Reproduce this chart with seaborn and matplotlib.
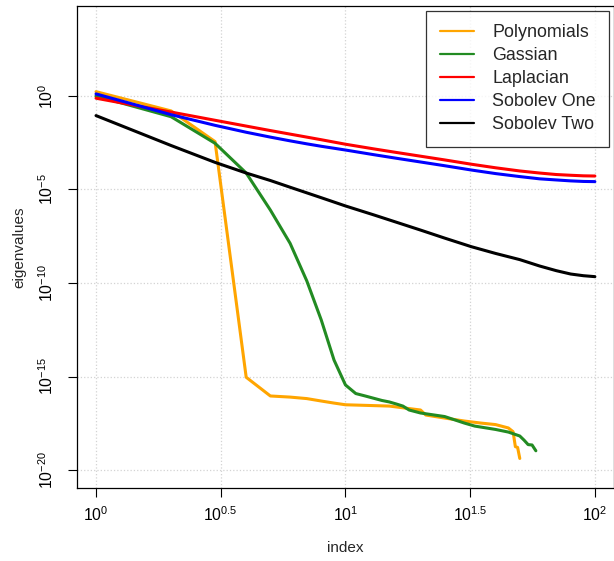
import numpy as np
import pandas as pd
import matplotlib
matplotlib.use('Agg')
import matplotlib.pyplot as plt
import seaborn as sns

# eigenvalues (log10 of value)
poly_idx = [1, 2, 3, 4, 5, 6, 7, 8, 9, 10, 15, 20, 21, 25, 30, 35, 40, 45, 47, 48, 49, 50]
poly_log = [0.23, -0.80, -2.44, -15.04, -16.04, -16.10, -16.18, -16.31, -16.42, -16.51,
            -16.58, -16.79, -17.06, -17.22, -17.38, -17.49, -17.57, -17.75, -17.95,
            -18.75, -18.79, -19.38]

gauss_idx = [1, 2, 3, 4, 5, 6, 7, 8, 9, 10, 11, 12, 14, 15, 16, 17, 18, 20, 25, 30,
             33, 40, 45, 50, 52, 54, 56, 58]
gauss_log = [0.0, -1.11, -2.53, -4.12, -6.10, -7.88, -9.89, -11.98, -14.12, -15.45,
             -15.91, -16.04, -16.28, -16.36, -16.47, -16.58, -16.79, -16.95, -17.14,
             -17.49, -17.65, -17.83, -17.97, -18.18, -18.40, -18.64, -18.66, -18.97]

smooth_idx = [1, 2, 3, 4, 5, 6, 7, 8, 10, 13, 16, 20, 25, 32, 40, 50, 60, 70, 80, 90, 100]
lap_log = [-0.12, -0.86, -1.30, -1.61, -1.85, -2.04, -2.20, -2.34, -2.58, -2.83, -3.02,
           -3.22, -3.42, -3.65, -3.84, -4.01, -4.12, -4.20, -4.24, -4.27, -4.28]
sob1_log = [0.11, -1.00, -1.57, -1.94, -2.20, -2.40, -2.56, -2.69, -2.89, -3.14, -3.33,
            -3.53, -3.73, -3.96, -4.15, -4.31, -4.43, -4.49, -4.54, -4.57, -4.58]
sob2_log = [-1.05, -2.65, -3.55, -4.12, -4.52, -4.88, -5.18, -5.44, -5.88, -6.36, -6.75,
            -7.17, -7.60, -8.06, -8.42, -8.75, -9.09, -9.34, -9.52, -9.61, -9.66]

series = [
    ('Polynomials', poly_idx, poly_log, 'orange'),
    ('Gassian', gauss_idx, gauss_log, 'forestgreen'),
    ('Laplacian', smooth_idx, lap_log, 'red'),
    ('Sobolev One', smooth_idx, sob1_log, 'blue'),
    ('Sobolev Two', smooth_idx, sob2_log, 'black'),
]

sns.set_style('ticks')
plt.rcParams['font.family'] = ['Liberation Sans', 'DejaVu Sans']
plt.rcParams['mathtext.fontset'] = 'custom'
plt.rcParams['mathtext.rm'] = 'Liberation Sans'
plt.rcParams['mathtext.it'] = 'Liberation Sans'

fig = plt.figure(figsize=(6.14, 5.61), dpi=100)
ax = fig.add_axes([76.7 / 614, (561 - 488) / 561, (614.2 - 76.7) / 614, (488 - 6) / 561])

for name, idx, logv, col in series:
    df = pd.DataFrame({'index': idx, 'eigenvalues': np.power(10.0, logv)})
    sns.lineplot(data=df, x='index', y='eigenvalues', color=col, lw=2.2,
                 label=name, ax=ax, sort=False)

ax.set_xscale('log')
ax.set_yscale('log')
ax.set_xlim(10 ** -0.0775, 10 ** 2.0775)
ax.set_ylim(10 ** -20.96, 10 ** 4.81)

xt = [0, 0.5, 1, 1.5, 2]
ax.set_xticks([10 ** v for v in xt])
ax.set_xticklabels(['$10^{0}$', '$10^{0.5}$', '$10^{1}$', '$10^{1.5}$', '$10^{2}$'])
yt = [0, -5, -10, -15, -20]
ax.set_yticks([10.0 ** v for v in yt])
ax.set_yticklabels(['$10^{%d}$' % v if v == 0 else '$10^{\u2212%d}$' % -v for v in yt],
                   rotation=90, va='center')
ax.minorticks_off()
ax.tick_params(axis='both', direction='out', length=6.7, width=0.8, color='black',
               labelsize=11.3, labelcolor='black')
ax.tick_params(axis='x', pad=6)
ax.tick_params(axis='y', pad=8)

ax.grid(True, color='lightgray', linestyle=':', linewidth=0.9)
for s in ax.spines.values():
    s.set_color('black')
    s.set_linewidth(0.9)

ax.set_xlabel('index', fontsize=11, labelpad=12)
ax.set_ylabel('eigenvalues', fontsize=11, labelpad=8)

leg = ax.legend(loc='upper right', bbox_to_anchor=(609.3 / 614, (561 - 11) / 561),
                bbox_transform=fig.transFigure, fontsize=12.9, frameon=True,
                fancybox=False, borderaxespad=0, handlelength=1.95, handletextpad=1.0,
                labelspacing=0.33, borderpad=0.75)
leg.get_frame().set_edgecolor('black')
leg.get_frame().set_linewidth(0.9)
for h in leg.get_lines():
    h.set_linewidth(1.6)

fig.savefig('out.png', dpi=100)
